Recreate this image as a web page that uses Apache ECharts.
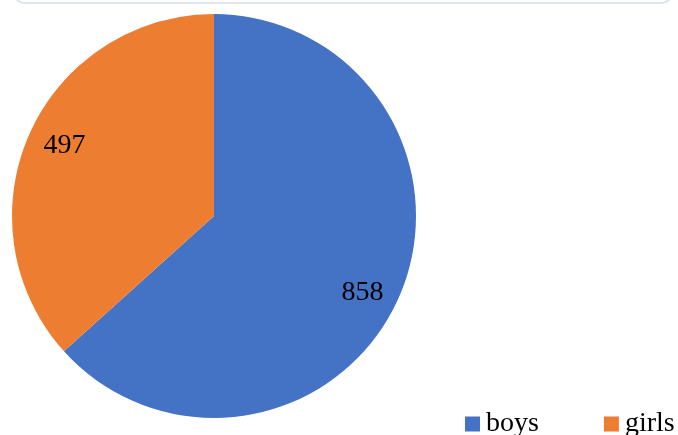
<!DOCTYPE html>
<html><head><meta charset="utf-8">
<script src="https://cdn.jsdelivr.net/npm/echarts@6/dist/echarts.min.js"></script>
<style>html,body{margin:0;padding:0;background:#fff}#c{width:678px;height:435px}</style>
</head><body><div id="c"></div>
<script>
var categories = ['boys', 'girls'];
var values = [858, 497];
var colors = ['#4472C4', '#ED7D31'];

var chart = echarts.init(document.getElementById('c'));
var data = categories.map(function (n, i) { return { name: n, value: values[i], itemStyle: { color: colors[i] } }; });
var labelData = categories.map(function (n, i) { return { name: n, value: values[i] }; });
var nudges = [[-6, 8], [5, -2]];
chart.setOption({
  animation: false,
  graphic: [{
    type: 'rect', shape: { x: 13, y: -40, width: 660, height: 43, r: 12 },
    style: { fill: 'none', stroke: '#D5DEE8', lineWidth: 1.5 }, silent: true
  }],
  legend: {
    data: categories, left: 465, top: 410, width: 300, itemWidth: 15, itemHeight: 15, itemGap: 65,
    icon: 'rect', padding: 0,
    textStyle: { fontFamily: 'Liberation Serif', fontSize: 28, color: '#000', padding: [0, 0, 0, 1] }
  },
  series: [{
    type: 'pie', center: [214, 216], radius: [0, 202], startAngle: 90, clockwise: true,
    data: data, label: { show: false }, labelLine: { show: false }, silent: true
  }, {
    type: 'pie', center: [214, 216], radius: [130, 202], startAngle: 90, clockwise: true,
    data: labelData, itemStyle: { color: 'rgba(0,0,0,0)' }, silent: true,
    label: { show: true, position: 'inside', formatter: '{c}', fontFamily: 'Liberation Serif', fontSize: 28, color: '#000' },
    labelLine: { show: false },
    labelLayout: function (p) { return { dx: nudges[p.dataIndex][0], dy: nudges[p.dataIndex][1] }; }
  }]
});
</script></body></html>
